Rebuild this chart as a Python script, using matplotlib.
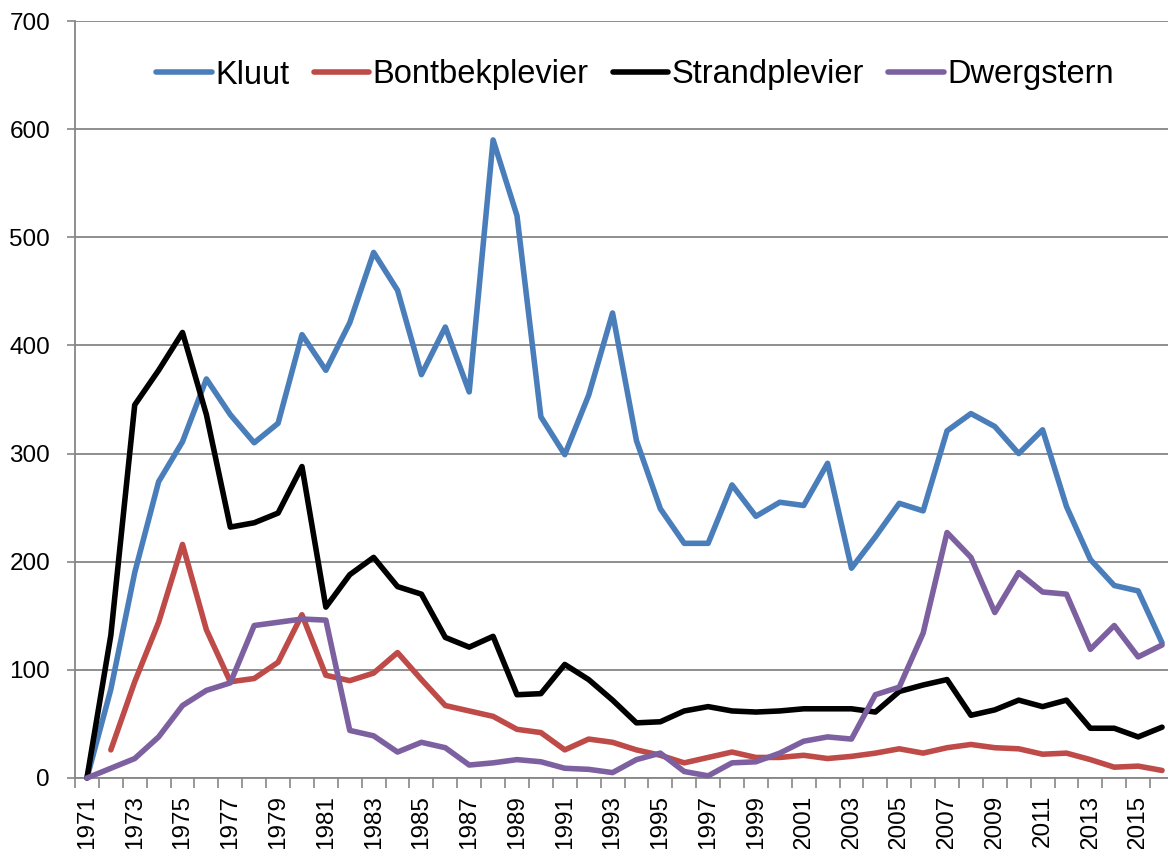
import numpy as np
import matplotlib
matplotlib.use("Agg")
import matplotlib.pyplot as plt

years = list(range(1971, 2017))

kluut = [0, 82, 190, 274, 311, 369, 336, 310, 328, 410, 377, 421, 486, 451, 373, 417, 357, 590, 520, 334,
         299, 354, 430, 312, 249, 217, 217, 271, 242, 255, 252, 291, 194, 223, 254, 247, 321, 337, 325, 300,
         322, 251, 202, 178, 173, 125]
bontbek = [np.nan, 26, 89, 144, 216, 137, 89, 92, 107, 151, 95, 90, 97, 116, 91, 67, 62, 57, 45, 42,
           26, 36, 33, 26, 21, 14, 19, 24, 19, 19, 21, 18, 20, 23, 27, 23, 28, 31, 28, 27,
           22, 23, 17, 10, 11, 7]
strand = [0, 132, 345, 377, 412, 336, 232, 236, 245, 288, 158, 188, 204, 177, 170, 130, 121, 131, 77, 78,
          105, 91, 72, 51, 52, 62, 66, 62, 61, 62, 64, 64, 64, 61, 80, 86, 91, 58, 63, 72,
          66, 72, 46, 46, 38, 47]
dwerg = [0, 9, 18, 38, 67, 81, 88, 141, 144, 147, 146, 44, 39, 24, 33, 28, 12, 14, 17, 15,
         9, 8, 5, 17, 23, 6, 2, 14, 15, 23, 34, 38, 36, 77, 84, 134, 227, 204, 153, 190,
         172, 170, 119, 141, 112, 123]

series_names = ["Kluut", "Bontbekplevier", "Strandplevier", "Dwergstern"]
series_values = [kluut, bontbek, strand, dwerg]
colors = ["#4A7EBB", "#BE4B48", "#000000", "#7D60A0"]

plt.rcParams['font.family'] = ['Liberation Sans', 'DejaVu Sans']

W, H = 1168, 849
fig = plt.figure(figsize=(W / 100, H / 100), dpi=100)
left_px, right_px, top_px, bot_px = 75, 1174, 21, 778
ax = fig.add_axes([left_px / W, (H - bot_px) / H, (right_px - left_px) / W, (bot_px - top_px) / H])

x = np.arange(len(years))
lines = []
for name, vals, c in zip(series_names, series_values, colors):
    ln, = ax.plot(x, vals, color=c, lw=4.0, label=name, solid_joinstyle='round',
                  solid_capstyle='round', clip_on=False, zorder=3)
    lines.append(ln)

ax.set_xlim(-0.5, len(years) - 0.5)
ax.set_ylim(0, 700)
ax.set_yticks(range(0, 701, 100))
ax.tick_params(axis='y', labelsize=17.5, length=6, width=1.2, color='#868686', direction='out', pad=12)

ax.set_xticks(np.arange(-0.5, len(years), 1), minor=False)
ax.set_xticklabels([])
ax.set_xticks(x[::2], minor=True)
ax.set_xticklabels([str(y) for y in years[::2]], minor=True, rotation=90, fontsize=17.5)
ax.tick_params(axis='x', which='major', length=7, width=1.2, color='#868686', direction='out')
ax.tick_params(axis='x', which='minor', length=0, pad=12)

ax.yaxis.grid(True, color='#868686', lw=1.3)
ax.set_axisbelow(True)
for s in ['top', 'right']:
    ax.spines[s].set_visible(False)
ax.spines['left'].set_color('#868686')
ax.spines['left'].set_linewidth(1.3)
ax.spines['bottom'].set_color('#868686')
ax.spines['bottom'].set_linewidth(1.3)

fig.legend(handles=lines, loc='center', bbox_to_anchor=(635 / W, 1 - 75 / H), ncol=4,
           frameon=False, fontsize=23.5, handlelength=1.7, handletextpad=0.1, columnspacing=0.75)

fig.savefig("out.png", dpi=100)
